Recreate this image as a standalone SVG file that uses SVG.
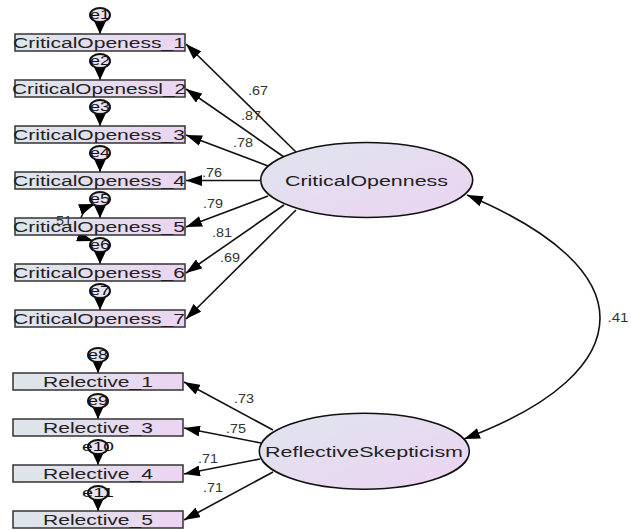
<svg xmlns="http://www.w3.org/2000/svg" width="631" height="530" viewBox="0 0 631 530">
<defs>
<linearGradient id="gbox" x1="0" y1="0" x2="1" y2="0">
<stop offset="0" stop-color="#dde6ea"/><stop offset="1" stop-color="#ecd4f2"/>
</linearGradient>
<linearGradient id="gell" x1="0" y1="0" x2="1" y2="1">
<stop offset="0" stop-color="#dfe5ee"/><stop offset="1" stop-color="#ecd3f2"/>
</linearGradient>
<linearGradient id="gerr" x1="0" y1="0" x2="1" y2="1">
<stop offset="0" stop-color="#e4e8ee"/><stop offset="1" stop-color="#eedcf2"/>
</linearGradient>
<marker id="ah" markerUnits="userSpaceOnUse" markerWidth="17" markerHeight="11" refX="16" refY="5.5" orient="auto-start-reverse">
<path d="M0,0 L16,5.5 L0,11 z" fill="#000"/>
</marker>
<marker id="eh" markerUnits="userSpaceOnUse" markerWidth="13" markerHeight="12" refX="13" refY="6" orient="auto">
<path d="M0,0 L13,6 L0,12 z" fill="#000"/>
</marker>
</defs>
<style>
.box{fill:url(#gbox);stroke:#333;stroke-width:1.5}
.lat{fill:url(#gell);stroke:#111;stroke-width:1.6}
.err{fill:url(#gerr);stroke:#111;stroke-width:2}
.t{font-family:"Liberation Sans",Arial,sans-serif;fill:#222;text-anchor:middle}
.bt{font-size:15.5px}
.rt{font-size:14px}
.lt{font-size:15.5px}
.et{font-size:12px;fill:#111}
.nl{font-size:12.5px;fill:#333}
.c{fill:none;stroke:#111;stroke-width:1.6}
.ea{fill:none;stroke:#111;stroke-width:1.5;marker-end:url(#eh)}
.la{fill:none;stroke:#111;stroke-width:1.6;marker-end:url(#ah)}
</style>

<g id="connectors">
<path class="la" d="M296,152 L186,44"/>
<path class="la" d="M284,157 L186,89"/>
<path class="la" d="M268,166 L186,135"/>
<path class="la" d="M260,180.5 L186,180.5"/>
<path class="la" d="M268,196 L186,227"/>
<path class="la" d="M284,205 L186,273"/>
<path class="la" d="M296,210 L186,319"/>
<path class="la" d="M273,430 L184,382"/>
<path class="la" d="M261,443 L184,428"/>
<path class="la" d="M260,459 L184,474"/>
<path class="la" d="M273,472 L184,520"/>
<path class="c" marker-start="url(#ah)" marker-end="url(#ah)" d="M467,195 C555,232 600,275 600,318 C600,362 555,405 464,439"/>
<path class="c" marker-start="url(#ah)" marker-end="url(#ah)" d="M95,204 C76,211 75,235 93,241"/>
<path class="ea" d="M100,22 L100,34"/>
<path class="ea" d="M100,68 L100,80"/>
<path class="ea" d="M100,114 L100,126"/>
<path class="ea" d="M100,160 L100,172"/>
<path class="ea" d="M100,206 L100,218"/>
<path class="ea" d="M100,252 L100,264"/>
<path class="ea" d="M100,298 L100,310"/>
<path class="ea" d="M98,362 L98,373"/>
<path class="ea" d="M98,408 L98,419"/>
<path class="ea" d="M98,454 L98,465"/>
<path class="ea" d="M98,500 L98,511"/>
<g class="t nl">
<text x="258" y="95" textLength="20" lengthAdjust="spacingAndGlyphs">.67</text>
<text x="251" y="120" textLength="20" lengthAdjust="spacingAndGlyphs">.87</text>
<text x="243" y="147" textLength="20" lengthAdjust="spacingAndGlyphs">.78</text>
<text x="212" y="177" textLength="20" lengthAdjust="spacingAndGlyphs">.76</text>
<text x="213" y="208" textLength="20" lengthAdjust="spacingAndGlyphs">.79</text>
<text x="222" y="237" textLength="20" lengthAdjust="spacingAndGlyphs">.81</text>
<text x="230" y="262" textLength="20" lengthAdjust="spacingAndGlyphs">.69</text>
<text x="244" y="403" textLength="20" lengthAdjust="spacingAndGlyphs">.73</text>
<text x="236" y="433" textLength="20" lengthAdjust="spacingAndGlyphs">.75</text>
<text x="208" y="463" textLength="20" lengthAdjust="spacingAndGlyphs">.71</text>
<text x="213" y="492" textLength="20" lengthAdjust="spacingAndGlyphs">.71</text>
<text x="618" y="322" textLength="21" lengthAdjust="spacingAndGlyphs">.41</text>
</g>
</g>

<g id="CriticalOpenness"><ellipse class="lat" cx="366.7" cy="180" rx="106" ry="37.5"/><text class="t lt" x="366.5" y="185.5" textLength="163" lengthAdjust="spacingAndGlyphs">CriticalOpenness</text></g>
<g id="ReflectiveSkepticism"><ellipse class="lat" cx="364.3" cy="451.2" rx="105" ry="38"/><text class="t lt" x="364" y="456.5" textLength="198" lengthAdjust="spacingAndGlyphs">ReflectiveSkepticism</text></g>

<g id="CO1"><rect class="box" x="15" y="34" width="170" height="17"/><text class="t bt" x="99" y="48" textLength="172" lengthAdjust="spacingAndGlyphs">CriticalOpeness_1</text></g>
<g id="CO2"><rect class="box" x="15" y="80" width="170" height="17"/><text class="t bt" x="99" y="94" textLength="174" lengthAdjust="spacingAndGlyphs">CriticalOpenessl_2</text></g>
<g id="CO3"><rect class="box" x="15" y="126" width="170" height="17"/><text class="t bt" x="99" y="140" textLength="172" lengthAdjust="spacingAndGlyphs">CriticalOpeness_3</text></g>
<g id="CO4"><rect class="box" x="15" y="172" width="170" height="17"/><text class="t bt" x="99" y="186" textLength="172" lengthAdjust="spacingAndGlyphs">CriticalOpeness_4</text></g>
<g id="CO5"><rect class="box" x="15" y="218" width="170" height="17"/><text class="t bt" x="99" y="232" textLength="172" lengthAdjust="spacingAndGlyphs">CriticalOpeness_5</text></g>
<g id="CO6"><rect class="box" x="15" y="264" width="170" height="17"/><text class="t bt" x="99" y="278" textLength="172" lengthAdjust="spacingAndGlyphs">CriticalOpeness_6</text></g>
<g id="CO7"><rect class="box" x="15" y="310" width="170" height="17"/><text class="t bt" x="99" y="324" textLength="172" lengthAdjust="spacingAndGlyphs">CriticalOpeness_7</text></g>

<g id="R1"><rect class="box" x="13" y="373" width="170" height="17"/><text class="t rt" x="98" y="386.5" textLength="110" lengthAdjust="spacingAndGlyphs">Relective_1</text></g>
<g id="R3"><rect class="box" x="13" y="419" width="170" height="17"/><text class="t rt" x="98" y="432.5" textLength="110" lengthAdjust="spacingAndGlyphs">Relective_3</text></g>
<g id="R4"><rect class="box" x="13" y="465" width="170" height="17"/><text class="t rt" x="98" y="478.5" textLength="110" lengthAdjust="spacingAndGlyphs">Relective_4</text></g>
<g id="R5"><rect class="box" x="13" y="511" width="170" height="17"/><text class="t rt" x="98" y="524.5" textLength="110" lengthAdjust="spacingAndGlyphs">Relective_5</text></g>

<g id="e1"><ellipse class="err" cx="100" cy="15" rx="10" ry="7"/><text class="t et" x="100" y="19" textLength="20" lengthAdjust="spacingAndGlyphs">e1</text></g>
<g id="e2"><ellipse class="err" cx="100" cy="61" rx="10" ry="7"/><text class="t et" x="100" y="65" textLength="20" lengthAdjust="spacingAndGlyphs">e2</text></g>
<g id="e3"><ellipse class="err" cx="100" cy="107" rx="10" ry="7"/><text class="t et" x="100" y="111" textLength="20" lengthAdjust="spacingAndGlyphs">e3</text></g>
<g id="e4"><ellipse class="err" cx="100" cy="153" rx="10" ry="7"/><text class="t et" x="100" y="157" textLength="20" lengthAdjust="spacingAndGlyphs">e4</text></g>
<g id="e5"><ellipse class="err" cx="100" cy="199" rx="10" ry="7"/><text class="t et" x="100" y="203" textLength="20" lengthAdjust="spacingAndGlyphs">e5</text></g>
<g id="e6"><ellipse class="err" cx="100" cy="245" rx="10" ry="7"/><text class="t et" x="100" y="249" textLength="20" lengthAdjust="spacingAndGlyphs">e6</text></g>
<g id="e7"><ellipse class="err" cx="100" cy="291" rx="10" ry="7"/><text class="t et" x="100" y="295" textLength="20" lengthAdjust="spacingAndGlyphs">e7</text></g>
<g id="e8"><ellipse class="err" cx="98" cy="355" rx="10" ry="7"/><text class="t et" x="98" y="359" textLength="20" lengthAdjust="spacingAndGlyphs">e8</text></g>
<g id="e9"><ellipse class="err" cx="98" cy="401" rx="10" ry="7"/><text class="t et" x="98" y="405" textLength="20" lengthAdjust="spacingAndGlyphs">e9</text></g>
<g id="e10"><ellipse class="err" cx="98" cy="447" rx="10" ry="7"/><text class="t et" x="98" y="451" textLength="32" lengthAdjust="spacingAndGlyphs">e10</text></g>
<g id="e11"><ellipse class="err" cx="98" cy="493" rx="10" ry="7"/><text class="t et" x="98" y="497" textLength="32" lengthAdjust="spacingAndGlyphs">e11</text></g>

<text class="t nl" x="62" y="225" textLength="20" lengthAdjust="spacingAndGlyphs">.51</text>
</svg>
